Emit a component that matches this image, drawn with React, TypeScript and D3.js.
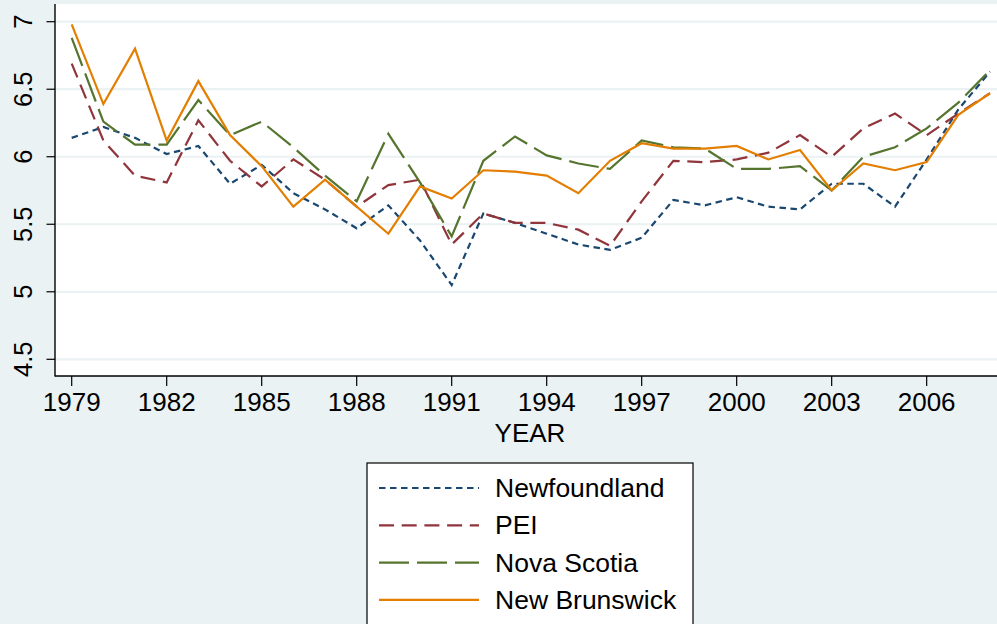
import * as d3 from "d3";
import React from "react";

const years = d3.range(1979, 2009);

const newfoundland = [
  6.14, 6.22, 6.14, 6.02, 6.08, 5.8, 5.94, 5.73, 5.61, 5.47, 5.64, 5.38, 5.05, 5.58, 5.51,
  5.43, 5.35, 5.31, 5.4, 5.68, 5.64, 5.7, 5.63, 5.61, 5.8, 5.8, 5.63, 5.98, 6.35, 6.63,
];
const pei = [
  6.69, 6.12, 5.86, 5.81, 6.27, 5.97, 5.78, 5.98, 5.83, 5.63, 5.79, 5.83, 5.35, 5.58, 5.51,
  5.51, 5.46, 5.34, 5.67, 5.97, 5.96, 5.98, 6.03, 6.16, 6.0, 6.21, 6.32, 6.16, 6.32, 6.47,
];
const novaScotia = [
  6.88, 6.26, 6.09, 6.09, 6.42, 6.16, 6.26, 6.07, 5.86, 5.67, 6.17, 5.81, 5.41, 5.97, 6.15,
  6.01, 5.95, 5.91, 6.12, 6.07, 6.06, 5.91, 5.91, 5.93, 5.75, 6.0, 6.07, 6.21, 6.4, 6.64,
];
const newBrunswick = [
  6.98, 6.39, 6.8, 6.12, 6.56, 6.16, 5.93, 5.63, 5.83, 5.63, 5.43, 5.78, 5.69, 5.9, 5.89,
  5.86, 5.73, 5.97, 6.1, 6.06, 6.06, 6.08, 5.98, 6.05, 5.75, 5.95, 5.9, 5.96, 6.31, 6.47,
];

const xTicks = [1979, 1982, 1985, 1988, 1991, 1994, 1997, 2000, 2003, 2006];
const yTicks = [4.5, 5, 5.5, 6, 6.5, 7];

const series = [
  { name: "Newfoundland", values: newfoundland, color: "#1a476f", dash: "6.5,4.5" },
  { name: "PEI", values: pei, color: "#90353b", dash: "15,7.7" },
  { name: "Nova Scotia", values: novaScotia, color: "#55752f", dash: "30,8" },
  { name: "New Brunswick", values: newBrunswick, color: "#e37e00", dash: "none" },
];

const width = 997;
const height = 624;
const bg = "#eaf2f3";
const font = "'Liberation Sans', Arial, Helvetica, sans-serif";

export default function App() {
  const plot = { left: 55, top: 4, right: 997, bottom: 376 };

  const x = d3.scaleLinear().domain([1979, 2008]).range([71.7, 990]);
  const y = d3.scaleLinear().domain([4.5, 7]).range([359.3, 21.7]);

  const line = d3
    .line<number>()
    .x((_, i) => x(years[i]))
    .y((d) => y(d));

  const legend = { left: 367, top: 463, width: 326, rowGap: 37.3, firstBase: 497 };

  return (
    <svg
      width={width}
      height={height}
      viewBox={`0 0 ${width} ${height}`}
      style={{ position: "absolute", left: 0, top: 0, fontFamily: font }}
    >
      <rect x={0} y={0} width={width} height={height} fill={bg} />
      <rect
        x={plot.left}
        y={plot.top}
        width={plot.right - plot.left}
        height={plot.bottom - plot.top}
        fill="#ffffff"
      />

      {/* gridlines */}
      {yTicks.map((t) => (
        <line
          key={"g" + t}
          x1={plot.left}
          x2={plot.right}
          y1={y(t)}
          y2={y(t)}
          stroke={bg}
          strokeWidth={2.2}
        />
      ))}

      {/* series */}
      {series.map((s) => (
        <path
          key={s.name}
          d={line(s.values) ?? ""}
          fill="none"
          stroke={s.color}
          strokeWidth={2.2}
          strokeDasharray={s.dash}
          strokeLinejoin="miter"
        />
      ))}

      {/* y axis */}
      <line x1={plot.left} x2={plot.left} y1={plot.top} y2={plot.bottom + 0.6} stroke="#000" strokeWidth={1.4} />
      {yTicks.map((t) => (
        <g key={"y" + t}>
          <line x1={plot.left - 8.5} x2={plot.left} y1={y(t)} y2={y(t)} stroke="#000" strokeWidth={1.2} />
          <text
            transform={`translate(32,${y(t)}) rotate(-90)`}
            textAnchor="middle"
            fontSize={25.5}
            fill="#000"
          >
            {t}
          </text>
        </g>
      ))}

      {/* x axis */}
      <line x1={plot.left} x2={plot.right} y1={plot.bottom} y2={plot.bottom} stroke="#000" strokeWidth={1.4} />
      {xTicks.map((t) => (
        <g key={"x" + t}>
          <line x1={x(t)} x2={x(t)} y1={plot.bottom} y2={plot.bottom + 10} stroke="#000" strokeWidth={1.2} />
          <text x={x(t)} y={411} textAnchor="middle" fontSize={26} fill="#000">
            {t}
          </text>
        </g>
      ))}
      <text x={530} y={442} textAnchor="middle" fontSize={26} fill="#000">
        YEAR
      </text>

      {/* legend */}
      <rect
        x={legend.left}
        y={legend.top}
        width={legend.width}
        height={200}
        fill="#ffffff"
        stroke="#000"
        strokeWidth={1.2}
      />
      {series.map((s, i) => {
        const base = legend.firstBase + i * legend.rowGap;
        return (
          <g key={"l" + s.name}>
            <line
              x1={379}
              x2={479}
              y1={base - 9}
              y2={base - 9}
              stroke={s.color}
              strokeWidth={2.2}
              strokeDasharray={s.dash}
            />
            <text x={495} y={base} fontSize={26.5} fill="#000">
              {s.name}
            </text>
          </g>
        );
      })}
    </svg>
  );
}
